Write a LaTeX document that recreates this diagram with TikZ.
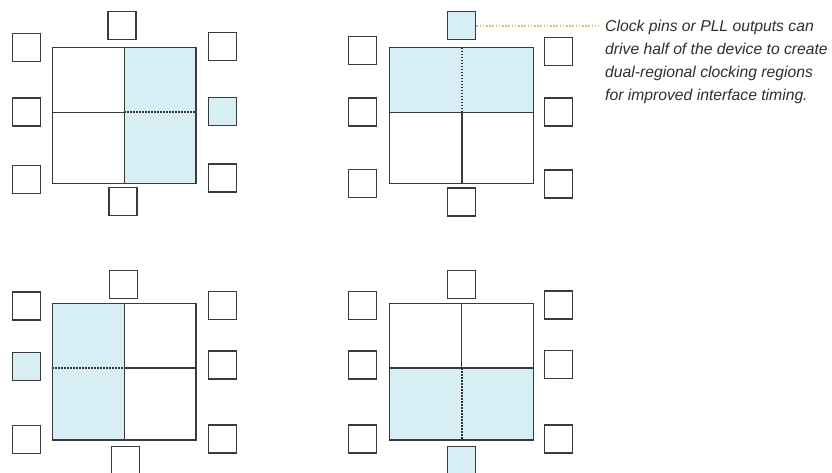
\documentclass[tikz,border=0pt]{standalone}
\usepackage{fontspec}
\setmainfont{Liberation Sans}
\definecolor{edge}{HTML}{3A3A3A}
\definecolor{region}{HTML}{D7EEF5}
\definecolor{callout}{HTML}{F5AE6A}
\definecolor{notetext}{HTML}{2E2E2E}
\begin{document}
\begin{tikzpicture}[x=1pt,y=-1pt,
  pin/.style={draw=edge, line width=1.2pt, fill=white, minimum width=28pt, minimum height=28pt, inner sep=0pt},
  pinon/.style={pin, fill=region},
  chip/.style={draw=edge, line width=1.2pt, inner sep=0pt},
  divider/.style={draw=edge, line width=1.1pt},
  dotline/.style={draw=edge!90!black, line width=1.6pt, dash pattern=on 1.5pt off 1.5pt},
  leader/.style={draw=callout, line width=1.6pt, dash pattern=on 1.6pt off 1.6pt},
  note/.style={font=\itshape\fontsize{15.7}{23}\selectfont, text=notetext, align=left, anchor=north west, inner sep=0pt}
]
\useasboundingbox (0,0) rectangle (832,473);
\clip (0,0) rectangle (832,473);

% ---------- Diagram 1 (top left): right half ----------
\fill[region] (124.3,47.7) rectangle (196,183.3);
\draw[divider] (52.3,112.3) -- (124.3,112.3);
\draw[dotline] (124.3,112.3) -- (196,112.3);
\draw[divider] (124.3,47.7) -- (124.3,183.3);
\node[chip, minimum width=143.7pt, minimum height=135.6pt] (m1) at (124.15,115.5) {};
\node[pin] (p1t) at (122,25.8) {};
\node[pin] (p1b) at (123,201.8) {};
\node[pin] (p1l1) at (26.3,47.5) {};
\node[pin] (p1l2) at (26.3,112) {};
\node[pin] (p1l3) at (26.3,179.5) {};
\node[pin] (p1r1) at (222.2,46.8) {};
\node[pinon] (p1r2) at (222.2,111.3) {};
\node[pin] (p1r3) at (222.2,178) {};

% ---------- Diagram 2 (top right): top half ----------
\fill[region] (389.7,47.7) rectangle (533.7,112.3);
\draw[divider] (389.7,112.3) -- (533.7,112.3);
\draw[dotline] (462,47.7) -- (462,112.3);
\draw[divider] (462,112.3) -- (462,183.7);
\node[chip, minimum width=144pt, minimum height=136pt] (m2) at (461.7,115.7) {};
\node[pinon] (p2t) at (461.8,25.8) {};
\node[pin] (p2b) at (461.2,202) {};
\node[pin] (p2l1) at (362.5,50.3) {};
\node[pin] (p2l2) at (362.5,112) {};
\node[pin] (p2l3) at (362.5,183.2) {};
\node[pin] (p2r1) at (558.8,51.7) {};
\node[pin] (p2r2) at (558.8,112) {};
\node[pin] (p2r3) at (558.8,184) {};

% ---------- Diagram 3 (bottom left): left half ----------
\fill[region] (52.3,303.3) rectangle (124.3,440);
\draw[dotline] (52.3,368) -- (124.3,368);
\draw[divider] (124.3,368) -- (196,368);
\draw[divider] (124.3,303.3) -- (124.3,440);
\node[chip, minimum width=143.7pt, minimum height=136.7pt] (m3) at (124.15,371.65) {};
\node[pin] (p3t) at (123.2,284.2) {};
\node[pin] (p3b) at (125.5,460.5) {};
\node[pin] (p3l1) at (26.3,306) {};
\node[pinon] (p3l2) at (26.3,366.3) {};
\node[pin] (p3l3) at (26.3,439.7) {};
\node[pin] (p3r1) at (222.2,305.7) {};
\node[pin] (p3r2) at (222.2,365) {};
\node[pin] (p3r3) at (222.2,439) {};

% ---------- Diagram 4 (bottom right): bottom half ----------
\fill[region] (389.7,368) rectangle (533.7,440);
\draw[divider] (389.7,368) -- (533.7,368);
\draw[divider] (461.7,303.3) -- (461.7,368);
\draw[dotline] (461.7,368) -- (461.7,440);
\node[chip, minimum width=144pt, minimum height=136.7pt] (m4) at (461.7,371.65) {};
\node[pin] (p4t) at (461.5,284.2) {};
\node[pinon] (p4b) at (461.8,460.8) {};
\node[pin] (p4l1) at (362.5,305.3) {};
\node[pin] (p4l2) at (362.5,365) {};
\node[pin] (p4l3) at (362.5,439) {};
\node[pin] (p4r1) at (558.8,305) {};
\node[pin] (p4r2) at (558.8,364.3) {};
\node[pin] (p4r3) at (558.8,439) {};

% ---------- Callout ----------
\node[note] (note) at (605,20) {Clock pins or PLL outputs can\\drive half of the device to create\\dual-regional clocking regions\\for improved interface timing.};
\draw[leader, shorten >=6pt] (p2t.east) -- (p2t.east -| note.west);
\end{tikzpicture}
\end{document}
